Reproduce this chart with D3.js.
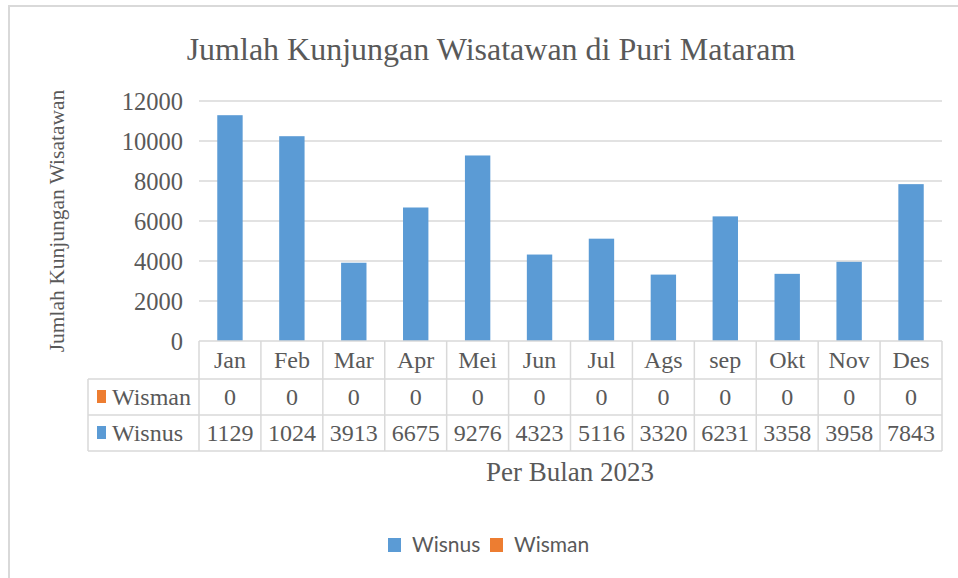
<!DOCTYPE html>
<html lang="en">
<head>
    <meta charset="UTF-8">
    <title>Jumlah Kunjungan Wisatawan di Puri Mataram</title>
    <script src="https://d3js.org/d3.v7.min.js"></script>
    <style>
        body { margin: 0; background: #fff; }
        svg { display: block; }
        .serif { font-family: "Liberation Serif", "Times New Roman", serif; fill: #595959; }
        .sans { font-family: Lato, "Open Sans", sans-serif; fill: #595959; }
    </style>
</head>
<body>
<svg width="958" height="578"></svg>
<script>
    // data
    const months = ["Jan", "Feb", "Mar", "Apr", "Mei", "Jun", "Jul", "Ags", "sep", "Okt", "Nov", "Des"];
    const wisnus = [11290, 10240, 3913, 6675, 9276, 4323, 5116, 3320, 6231, 3358, 3958, 7843];
    const wisman = [0, 0, 0, 0, 0, 0, 0, 0, 0, 0, 0, 0];
    const yTicks = [0, 2000, 4000, 6000, 8000, 10000, 12000];

    const blue = "#5b9bd5", orange = "#ed7d31", gridCol = "#d9d9d9";

    const svg = d3.select("svg");

    // chart frame
    svg.append("rect")
        .attr("x", 9).attr("y", 6)
        .attr("width", 960).attr("height", 580)
        .attr("fill", "none")
        .attr("stroke", gridCol)
        .attr("stroke-width", 2);

    const plot = { left: 199, right: 942, top: 101, bottom: 341 };

    const x = d3.scaleBand()
        .domain(months)
        .range([plot.left, plot.right])
        .paddingInner(0)
        .paddingOuter(0);

    const y = d3.scaleLinear()
        .domain([0, 12000])
        .range([plot.bottom, plot.top]);

    // title
    svg.append("text")
        .attr("class", "serif")
        .attr("x", 491).attr("y", 60)
        .attr("text-anchor", "middle")
        .style("font-size", "32px")
        .text("Jumlah Kunjungan Wisatawan di Puri Mataram");

    // gridlines
    svg.append("g").selectAll("line")
        .data(yTicks.slice(1))
        .join("line")
        .attr("x1", plot.left).attr("x2", plot.right)
        .attr("y1", d => y(d)).attr("y2", d => y(d))
        .attr("stroke", gridCol)
        .attr("stroke-width", 1.5);

    // y axis labels
    const yAxis = svg.append("g")
        .attr("transform", `translate(${plot.left - 16},0)`)
        .call(d3.axisLeft(y).tickValues(yTicks).tickSize(0).tickPadding(0).tickFormat(d3.format("d")));
    yAxis.select(".domain").remove();
    yAxis.selectAll("text")
        .attr("class", "serif")
        .attr("fill", null)
        .style("font-size", "24.5px")
        .attr("dy", "0.35em");

    // y axis title
    svg.append("text")
        .attr("class", "serif")
        .attr("transform", `translate(64,${(plot.top + plot.bottom) / 2})` + " rotate(-90)")
        .attr("text-anchor", "middle")
        .style("font-size", "21.5px")
        .text("Jumlah Kunjungan Wisatawan");

    // bars (Wisman are all zero, so only Wisnus shows)
    const barW = x.bandwidth() * 0.41;
    svg.append("g").selectAll("rect")
        .data(months.map((m, i) => ({ m, v: wisnus[i] })))
        .join("rect")
        .attr("x", d => x(d.m) + (x.bandwidth() - barW) / 2)
        .attr("y", d => y(d.v))
        .attr("width", barW)
        .attr("height", d => y(0) - y(d.v))
        .attr("fill", blue);

    // data table under the plot
    const rowH = [plot.bottom, 379, 415, 451];
    const tableLeft = 88;
    const tbl = svg.append("g");

    // horizontal lines
    tbl.append("line")
        .attr("x1", plot.left).attr("x2", plot.right)
        .attr("y1", rowH[0]).attr("y2", rowH[0])
        .attr("stroke", gridCol).attr("stroke-width", 1.5);
    rowH.slice(1).forEach(r => {
        tbl.append("line")
            .attr("x1", tableLeft).attr("x2", plot.right)
            .attr("y1", r).attr("y2", r)
            .attr("stroke", gridCol).attr("stroke-width", 1.5);
    });
    // vertical lines
    tbl.selectAll("line.v")
        .data(months.map(m => x(m)).concat([plot.right]))
        .join("line")
        .attr("class", "v")
        .attr("x1", d => d).attr("x2", d => d)
        .attr("y1", rowH[0]).attr("y2", rowH[3])
        .attr("stroke", gridCol).attr("stroke-width", 1.5);
    tbl.append("line")
        .attr("x1", tableLeft).attr("x2", tableLeft)
        .attr("y1", rowH[1]).attr("y2", rowH[3])
        .attr("stroke", gridCol).attr("stroke-width", 1.5);

    // month labels
    tbl.selectAll("text.month")
        .data(months)
        .join("text")
        .attr("class", "serif month")
        .attr("x", d => x(d) + x.bandwidth() / 2)
        .attr("y", (rowH[0] + rowH[1]) / 2)
        .attr("dy", "0.35em")
        .attr("text-anchor", "middle")
        .style("font-size", "24px")
        .text(d => d);

    // series rows; Excel cuts the long numbers to fit the cell
    const rows = [
        { name: "Wisman", color: orange, values: wisman },
        { name: "Wisnus", color: blue, values: wisnus }
    ];
    rows.forEach((row, r) => {
        const cy = (rowH[r + 1] + rowH[r + 2]) / 2;
        tbl.append("rect")
            .attr("x", 97).attr("y", cy - 7)
            .attr("width", 9).attr("height", 13)
            .attr("fill", row.color);
        tbl.append("text")
            .attr("class", "serif")
            .attr("x", 112).attr("y", cy)
            .attr("dy", "0.35em")
            .style("font-size", "24px")
            .text(row.name);
        tbl.selectAll("text.val" + r)
            .data(row.values)
            .join("text")
            .attr("class", "serif val" + r)
            .attr("x", (d, i) => x(months[i]) + x.bandwidth() / 2)
            .attr("y", cy)
            .attr("dy", "0.35em")
            .attr("text-anchor", "middle")
            .style("font-size", "24px")
            .text(d => String(d).slice(0, 4));
    });

    // x axis title
    svg.append("text")
        .attr("class", "serif")
        .attr("x", 570).attr("y", 481)
        .attr("text-anchor", "middle")
        .style("font-size", "27px")
        .text("Per Bulan 2023");

    // legend
    const legend = svg.append("g").attr("transform", "translate(388,545)");
    const legItems = [
        { name: "Wisnus", color: blue, dx: 0 },
        { name: "Wisman", color: orange, dx: 102 }
    ];
    legItems.forEach(it => {
        legend.append("rect")
            .attr("x", it.dx).attr("y", -7)
            .attr("width", 13).attr("height", 14)
            .attr("fill", it.color);
        legend.append("text")
            .attr("class", "sans")
            .attr("x", it.dx + 24).attr("y", 0)
            .attr("dy", "0.35em")
            .style("font-size", "21px")
            .text(it.name);
    });
</script>
</body>
</html>
